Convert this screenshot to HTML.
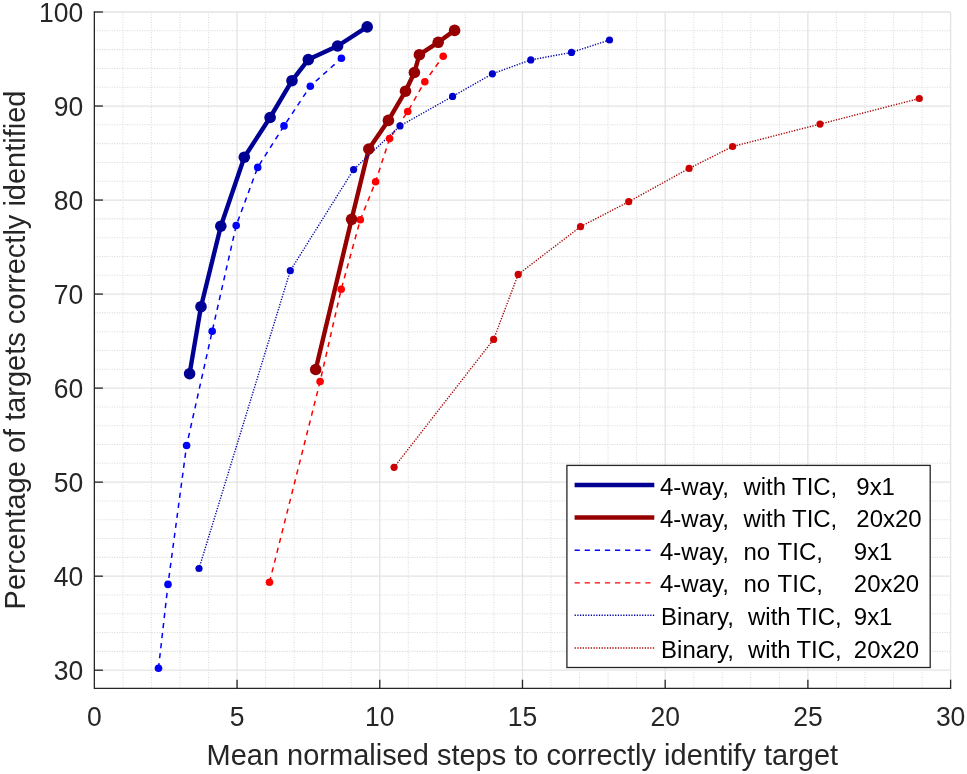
<!DOCTYPE html>
<html lang="en"><head><meta charset="utf-8"><title>Mean normalised steps vs percentage of targets correctly identified</title>
<style>html,body{margin:0;padding:0;background:#fff}svg{display:block}text{font-family:"Liberation Sans",sans-serif;fill:#262626}</style></head><body>
<svg width="967" height="774" viewBox="0 0 967 774">
<rect width="967" height="774" fill="#fff"/>
<g stroke="#dbdbdb" stroke-width="1.05" stroke-dasharray="1.1 1.4" fill="none">
<line x1="122.89" y1="12.00" x2="122.89" y2="688.30"/>
<line x1="151.43" y1="12.00" x2="151.43" y2="688.30"/>
<line x1="179.97" y1="12.00" x2="179.97" y2="688.30"/>
<line x1="208.52" y1="12.00" x2="208.52" y2="688.30"/>
<line x1="265.60" y1="12.00" x2="265.60" y2="688.30"/>
<line x1="294.14" y1="12.00" x2="294.14" y2="688.30"/>
<line x1="322.68" y1="12.00" x2="322.68" y2="688.30"/>
<line x1="351.23" y1="12.00" x2="351.23" y2="688.30"/>
<line x1="408.31" y1="12.00" x2="408.31" y2="688.30"/>
<line x1="436.85" y1="12.00" x2="436.85" y2="688.30"/>
<line x1="465.39" y1="12.00" x2="465.39" y2="688.30"/>
<line x1="493.93" y1="12.00" x2="493.93" y2="688.30"/>
<line x1="551.02" y1="12.00" x2="551.02" y2="688.30"/>
<line x1="579.56" y1="12.00" x2="579.56" y2="688.30"/>
<line x1="608.10" y1="12.00" x2="608.10" y2="688.30"/>
<line x1="636.64" y1="12.00" x2="636.64" y2="688.30"/>
<line x1="693.73" y1="12.00" x2="693.73" y2="688.30"/>
<line x1="722.27" y1="12.00" x2="722.27" y2="688.30"/>
<line x1="750.81" y1="12.00" x2="750.81" y2="688.30"/>
<line x1="779.35" y1="12.00" x2="779.35" y2="688.30"/>
<line x1="836.43" y1="12.00" x2="836.43" y2="688.30"/>
<line x1="864.98" y1="12.00" x2="864.98" y2="688.30"/>
<line x1="893.52" y1="12.00" x2="893.52" y2="688.30"/>
<line x1="922.06" y1="12.00" x2="922.06" y2="688.30"/>
<line x1="94.35" y1="651.39" x2="950.60" y2="651.39"/>
<line x1="94.35" y1="632.59" x2="950.60" y2="632.59"/>
<line x1="94.35" y1="613.78" x2="950.60" y2="613.78"/>
<line x1="94.35" y1="594.98" x2="950.60" y2="594.98"/>
<line x1="94.35" y1="557.37" x2="950.60" y2="557.37"/>
<line x1="94.35" y1="538.56" x2="950.60" y2="538.56"/>
<line x1="94.35" y1="519.75" x2="950.60" y2="519.75"/>
<line x1="94.35" y1="500.95" x2="950.60" y2="500.95"/>
<line x1="94.35" y1="463.34" x2="950.60" y2="463.34"/>
<line x1="94.35" y1="444.53" x2="950.60" y2="444.53"/>
<line x1="94.35" y1="425.73" x2="950.60" y2="425.73"/>
<line x1="94.35" y1="406.92" x2="950.60" y2="406.92"/>
<line x1="94.35" y1="369.31" x2="950.60" y2="369.31"/>
<line x1="94.35" y1="350.50" x2="950.60" y2="350.50"/>
<line x1="94.35" y1="331.70" x2="950.60" y2="331.70"/>
<line x1="94.35" y1="312.89" x2="950.60" y2="312.89"/>
<line x1="94.35" y1="275.28" x2="950.60" y2="275.28"/>
<line x1="94.35" y1="256.47" x2="950.60" y2="256.47"/>
<line x1="94.35" y1="237.67" x2="950.60" y2="237.67"/>
<line x1="94.35" y1="218.86" x2="950.60" y2="218.86"/>
<line x1="94.35" y1="181.25" x2="950.60" y2="181.25"/>
<line x1="94.35" y1="162.45" x2="950.60" y2="162.45"/>
<line x1="94.35" y1="143.64" x2="950.60" y2="143.64"/>
<line x1="94.35" y1="124.83" x2="950.60" y2="124.83"/>
<line x1="94.35" y1="87.22" x2="950.60" y2="87.22"/>
<line x1="94.35" y1="68.42" x2="950.60" y2="68.42"/>
<line x1="94.35" y1="49.61" x2="950.60" y2="49.61"/>
<line x1="94.35" y1="30.81" x2="950.60" y2="30.81"/>
</g>
<g stroke="#e3e3e3" stroke-width="1.3" fill="none">
<line x1="237.06" y1="12.00" x2="237.06" y2="688.30"/>
<line x1="379.77" y1="12.00" x2="379.77" y2="688.30"/>
<line x1="522.48" y1="12.00" x2="522.48" y2="688.30"/>
<line x1="665.18" y1="12.00" x2="665.18" y2="688.30"/>
<line x1="807.89" y1="12.00" x2="807.89" y2="688.30"/>
<line x1="950.60" y1="12.00" x2="950.60" y2="688.30"/>
<line x1="94.35" y1="670.20" x2="950.60" y2="670.20"/>
<line x1="94.35" y1="576.17" x2="950.60" y2="576.17"/>
<line x1="94.35" y1="482.14" x2="950.60" y2="482.14"/>
<line x1="94.35" y1="388.11" x2="950.60" y2="388.11"/>
<line x1="94.35" y1="294.09" x2="950.60" y2="294.09"/>
<line x1="94.35" y1="200.06" x2="950.60" y2="200.06"/>
<line x1="94.35" y1="106.03" x2="950.60" y2="106.03"/>
<line x1="94.35" y1="12.00" x2="950.60" y2="12.00"/>
</g>
<g stroke="#262626" stroke-width="1.3" fill="none" stroke-linecap="butt">
<path d="M94.35 11.35V688.30H951.25"/>
<line x1="237.06" y1="688.30" x2="237.06" y2="679.70"/>
<line x1="379.77" y1="688.30" x2="379.77" y2="679.70"/>
<line x1="522.48" y1="688.30" x2="522.48" y2="679.70"/>
<line x1="665.18" y1="688.30" x2="665.18" y2="679.70"/>
<line x1="807.89" y1="688.30" x2="807.89" y2="679.70"/>
<line x1="950.60" y1="688.30" x2="950.60" y2="679.70"/>
<line x1="94.35" y1="670.20" x2="102.95" y2="670.20"/>
<line x1="94.35" y1="576.17" x2="102.95" y2="576.17"/>
<line x1="94.35" y1="482.14" x2="102.95" y2="482.14"/>
<line x1="94.35" y1="388.11" x2="102.95" y2="388.11"/>
<line x1="94.35" y1="294.09" x2="102.95" y2="294.09"/>
<line x1="94.35" y1="200.06" x2="102.95" y2="200.06"/>
<line x1="94.35" y1="106.03" x2="102.95" y2="106.03"/>
<line x1="94.35" y1="12.00" x2="102.95" y2="12.00"/>
</g>
<g font-size="26.5">
<text transform="translate(94.35 726.00) scale(1 1.035)" text-anchor="middle">0</text>
<text transform="translate(237.06 726.00) scale(1 1.035)" text-anchor="middle">5</text>
<text transform="translate(379.77 726.00) scale(1 1.035)" text-anchor="middle">10</text>
<text transform="translate(522.48 726.00) scale(1 1.035)" text-anchor="middle">15</text>
<text transform="translate(665.18 726.00) scale(1 1.035)" text-anchor="middle">20</text>
<text transform="translate(807.89 726.00) scale(1 1.035)" text-anchor="middle">25</text>
<text transform="translate(950.60 726.00) scale(1 1.035)" text-anchor="middle">30</text>
<text transform="translate(83.20 680.00) scale(1 1.035)" text-anchor="end">30</text>
<text transform="translate(83.20 585.97) scale(1 1.035)" text-anchor="end">40</text>
<text transform="translate(83.20 491.94) scale(1 1.035)" text-anchor="end">50</text>
<text transform="translate(83.20 397.91) scale(1 1.035)" text-anchor="end">60</text>
<text transform="translate(83.20 303.89) scale(1 1.035)" text-anchor="end">70</text>
<text transform="translate(83.20 209.86) scale(1 1.035)" text-anchor="end">80</text>
<text transform="translate(83.20 115.83) scale(1 1.035)" text-anchor="end">90</text>
<text transform="translate(83.20 21.80) scale(1 1.035)" text-anchor="end">100</text>
</g>
<text transform="translate(522.30 764.50) scale(1 1.035)" text-anchor="middle" font-size="29">Mean normalised steps to correctly identify target</text>
<text transform="translate(24.8 350) rotate(-90) scale(1 1.035)" font-size="29" text-anchor="middle">Percentage of targets correctly identified</text>
<path d="M189.6 373.7L201.0 306.7L220.8 226.2L244.3 157.2L270.1 117.5L292.0 80.7L308.3 59.6L337.6 46.0L367.2 26.9" fill="none" stroke="#000092" stroke-width="4.4" stroke-linejoin="round"/>
<path d="M315.7 369.5L351.6 219.3L368.8 149.0L388.4 120.4L405.5 91.2L414.4 72.5L419.4 54.7L438.2 42.3L454.6 30.4" fill="none" stroke="#960000" stroke-width="4.4" stroke-linejoin="round"/>
<path d="M158.5 668.3L168.0 584.4L186.6 445.5L212.2 331.2L236.2 225.5L257.7 167.4L284.0 125.9L310.3 86.2L341.4 58.2" fill="none" stroke="#0000FF" stroke-width="1.5" stroke-linejoin="round" stroke-dasharray="5.2 4.9"/>
<path d="M269.5 582.2L320.1 381.5L341.2 289.3L360.3 219.8L375.6 181.8L389.6 138.6L407.7 111.5L424.8 81.7L443.2 56.2" fill="none" stroke="#FF0000" stroke-width="1.5" stroke-linejoin="round" stroke-dasharray="5.2 4.9"/>
<path d="M199.0 568.5L290.3 270.7L353.6 169.6L400.0 125.9L452.6 96.4L492.4 73.8L530.8 59.9L571.5 52.4L609.5 40.0" fill="none" stroke="#0000A8" stroke-width="1.4" stroke-linejoin="round" stroke-dasharray="1.25 1.45"/>
<path d="M394.1 467.3L493.6 339.4L518.2 274.4L580.5 226.7L628.7 201.7L689.1 168.4L732.6 146.5L820.0 124.1L919.3 98.5" fill="none" stroke="#A80000" stroke-width="1.4" stroke-linejoin="round" stroke-dasharray="1.25 1.45"/>
<g fill="#0000FF" stroke="none">
<circle cx="158.5" cy="668.3" r="3.8"/>
<circle cx="168.0" cy="584.4" r="3.8"/>
<circle cx="186.6" cy="445.5" r="3.8"/>
<circle cx="212.2" cy="331.2" r="3.8"/>
<circle cx="236.2" cy="225.5" r="3.8"/>
<circle cx="257.7" cy="167.4" r="3.8"/>
<circle cx="284.0" cy="125.9" r="3.8"/>
<circle cx="310.3" cy="86.2" r="3.8"/>
<circle cx="341.4" cy="58.2" r="3.8"/>
</g>
<g fill="#FF0000" stroke="none">
<circle cx="269.5" cy="582.2" r="3.8"/>
<circle cx="320.1" cy="381.5" r="3.8"/>
<circle cx="341.2" cy="289.3" r="3.8"/>
<circle cx="360.3" cy="219.8" r="3.8"/>
<circle cx="375.6" cy="181.8" r="3.8"/>
<circle cx="389.6" cy="138.6" r="3.8"/>
<circle cx="407.7" cy="111.5" r="3.8"/>
<circle cx="424.8" cy="81.7" r="3.8"/>
<circle cx="443.2" cy="56.2" r="3.8"/>
</g>
<g fill="#0000CC" stroke="none">
<circle cx="199.0" cy="568.5" r="3.6"/>
<circle cx="290.3" cy="270.7" r="3.6"/>
<circle cx="353.6" cy="169.6" r="3.6"/>
<circle cx="400.0" cy="125.9" r="3.6"/>
<circle cx="452.6" cy="96.4" r="3.6"/>
<circle cx="492.4" cy="73.8" r="3.6"/>
<circle cx="530.8" cy="59.9" r="3.6"/>
<circle cx="571.5" cy="52.4" r="3.6"/>
<circle cx="609.5" cy="40.0" r="3.6"/>
</g>
<g fill="#CC0000" stroke="none">
<circle cx="394.1" cy="467.3" r="3.6"/>
<circle cx="493.6" cy="339.4" r="3.6"/>
<circle cx="518.2" cy="274.4" r="3.6"/>
<circle cx="580.5" cy="226.7" r="3.6"/>
<circle cx="628.7" cy="201.7" r="3.6"/>
<circle cx="689.1" cy="168.4" r="3.6"/>
<circle cx="732.6" cy="146.5" r="3.6"/>
<circle cx="820.0" cy="124.1" r="3.6"/>
<circle cx="919.3" cy="98.5" r="3.6"/>
</g>
<g fill="#000092" stroke="none">
<circle cx="189.6" cy="373.7" r="5.8"/>
<circle cx="201.0" cy="306.7" r="5.8"/>
<circle cx="220.8" cy="226.2" r="5.8"/>
<circle cx="244.3" cy="157.2" r="5.8"/>
<circle cx="270.1" cy="117.5" r="5.8"/>
<circle cx="292.0" cy="80.7" r="5.8"/>
<circle cx="308.3" cy="59.6" r="5.8"/>
<circle cx="337.6" cy="46.0" r="5.8"/>
<circle cx="367.2" cy="26.9" r="5.8"/>
</g>
<g fill="#960000" stroke="none">
<circle cx="315.7" cy="369.5" r="5.8"/>
<circle cx="351.6" cy="219.3" r="5.8"/>
<circle cx="368.8" cy="149.0" r="5.8"/>
<circle cx="388.4" cy="120.4" r="5.8"/>
<circle cx="405.5" cy="91.2" r="5.8"/>
<circle cx="414.4" cy="72.5" r="5.8"/>
<circle cx="419.4" cy="54.7" r="5.8"/>
<circle cx="438.2" cy="42.3" r="5.8"/>
<circle cx="454.6" cy="30.4" r="5.8"/>
</g>
<rect x="566.9" y="465.4" width="363.3" height="202.1" fill="#fff" stroke="#262626" stroke-width="1.3"/>
<line x1="574.6" y1="485.0" x2="654.3" y2="485.0" stroke="#000092" stroke-width="4.5"/>
<line x1="574.6" y1="517.6" x2="654.3" y2="517.6" stroke="#960000" stroke-width="4.5"/>
<line x1="574.6" y1="550.2" x2="654.3" y2="550.2" stroke="#0000FF" stroke-width="1.4" stroke-dasharray="5.2 4.9"/>
<line x1="574.6" y1="582.9" x2="654.3" y2="582.9" stroke="#FF0000" stroke-width="1.4" stroke-dasharray="5.2 4.9"/>
<line x1="574.6" y1="615.3" x2="654.3" y2="615.3" stroke="#0000A8" stroke-width="1.5" stroke-dasharray="1.25 1.45"/>
<line x1="574.6" y1="648.0" x2="654.3" y2="648.0" stroke="#A80000" stroke-width="1.5" stroke-dasharray="1.25 1.45"/>
<g font-size="24" fill="#000" style="fill:#000">
<text transform="translate(0 494.5) scale(1 1.035)" style="fill:#000"><tspan x="660.0">4-way, </tspan><tspan x="743.4">with </tspan><tspan x="792.0">TIC, </tspan><tspan x="856.3">9x1</tspan></text>
<text transform="translate(0 527.1) scale(1 1.035)" style="fill:#000"><tspan x="660.0">4-way, </tspan><tspan x="743.4">with </tspan><tspan x="792.0">TIC, </tspan><tspan x="856.3">20x20</tspan></text>
<text transform="translate(0 559.7) scale(1 1.035)" style="fill:#000"><tspan x="660.0">4-way, </tspan><tspan x="743.4">no </tspan><tspan x="777.6">TIC, </tspan><tspan x="853.8">9x1</tspan></text>
<text transform="translate(0 592.4) scale(1 1.035)" style="fill:#000"><tspan x="660.0">4-way, </tspan><tspan x="743.4">no </tspan><tspan x="777.6">TIC, </tspan><tspan x="853.8">20x20</tspan></text>
<text transform="translate(0 624.8) scale(1 1.035)" style="fill:#000"><tspan x="661.1">Binary, </tspan><tspan x="748.0">with </tspan><tspan x="796.4">TIC, </tspan><tspan x="853.8">9x1</tspan></text>
<text transform="translate(0 657.5) scale(1 1.035)" style="fill:#000"><tspan x="661.1">Binary, </tspan><tspan x="748.0">with </tspan><tspan x="796.4">TIC, </tspan><tspan x="853.8">20x20</tspan></text>
</g>
</svg></body></html>
